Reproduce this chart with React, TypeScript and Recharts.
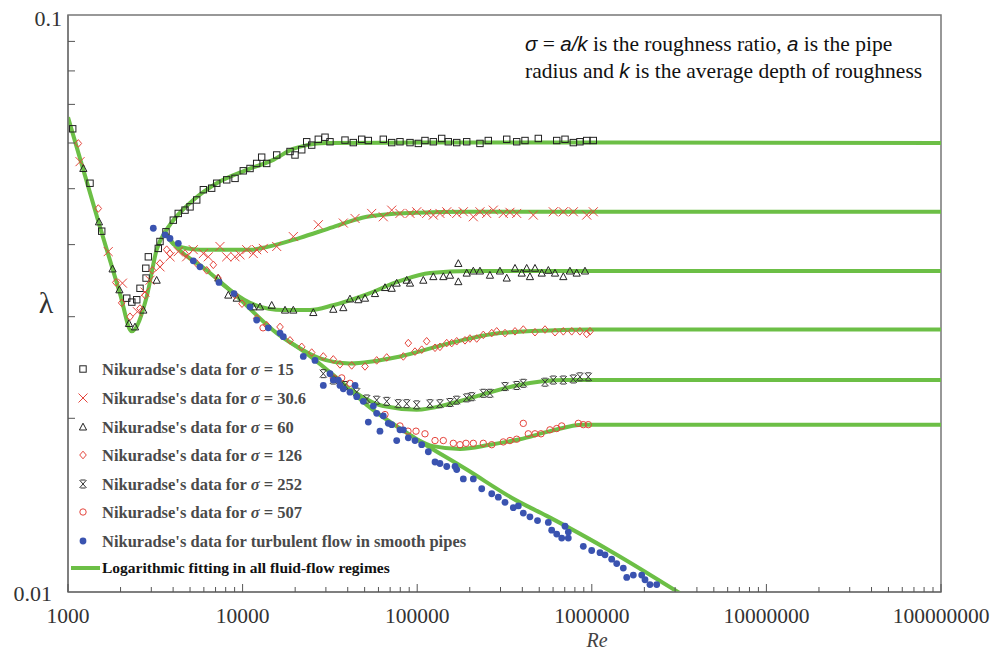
import React from 'react'
import { ComposedChart, Line, Scatter, XAxis, YAxis, ReferenceArea } from 'recharts'

type Pair = [number, number]

const xMajorTicks = [1000, 10000, 100000, 1000000, 10000000, 100000000]
const xMinorSteps = [2, 3, 4, 5, 6, 7, 8, 9]
const yTicks = [0.01, 0.02, 0.03, 0.04, 0.05, 0.06, 0.07, 0.08, 0.09, 0.1]
const yTickLabels = ['0.01', '0.1']

// fitted curves (Re, lambda)
const laminarFit: Pair[] = [[1000, 0.0665], [1525, 0.0429], [1985, 0.0329], [2317, 0.0283], [2823, 0.0325], [3221, 0.0392], [3594, 0.0421]]
const smoothFit: Pair[] = [[3594, 0.0421], [4010, 0.0402], [6230, 0.0361], [8810, 0.033], [15680, 0.0281], [23290, 0.0259], [34590, 0.0235], [51380, 0.0211], [99340, 0.0184], [192100, 0.0163], [371400, 0.0144], [551700, 0.01355], [1328000, 0.0117], [3198000, 0.00995]]
const fit15: Pair[] = [[3594, 0.0421], [4010, 0.0441], [5220, 0.0478], [7107, 0.0511], [10560, 0.0539], [14990, 0.0561], [19440, 0.0586], [23380, 0.0595], [30000, 0.06], [100000, 0.0601], [1000000, 0.0601], [100000000, 0.06]]
const fit30: Pair[] = [[3594, 0.0421], [4101, 0.0399], [5700, 0.0392], [11030, 0.0392], [13740, 0.0396], [21320, 0.0411], [32950, 0.0429], [51380, 0.0447], [90960, 0.0454], [200000, 0.0456], [1000000, 0.0456], [100000000, 0.0456]]
const fit60: Pair[] = [[7621, 0.0342], [11030, 0.0317], [17030, 0.0308], [24320, 0.0308], [32950, 0.0314], [51380, 0.0328], [79710, 0.0346], [118400, 0.0357], [200600, 0.036], [1000000, 0.036], [100000000, 0.036]]
const fit126: Pair[] = [[18680, 0.0271], [27760, 0.0254], [41220, 0.0249], [79710, 0.0256], [154100, 0.027], [298000, 0.0281], [576300, 0.0284], [1000000, 0.0285], [100000000, 0.0285]]
const fit252: Pair[] = [[41210, 0.0225], [63940, 0.021], [99340, 0.0207], [154100, 0.0212], [238200, 0.022], [371400, 0.0228], [718100, 0.0233], [1000000, 0.0233], [100000000, 0.0233]]
const fit507: Pair[] = [[99340, 0.0184], [123200, 0.0179], [175900, 0.0177], [261200, 0.018], [388000, 0.0184], [576300, 0.019], [890500, 0.0195], [1000000, 0.0195], [100000000, 0.0195]]

// Nikuradse's measurements
const sigma15: Pair[] = [[1064, 0.0635], [1337, 0.0511], [1560, 0.0422], [2170, 0.0323], [2320, 0.0318], [2475, 0.0321], [2585, 0.0336], [2790, 0.0364], [2800, 0.035], [2885, 0.0381], [3290, 0.0394], [3364, 0.0405], [3640, 0.0421], [4010, 0.0441], [4280, 0.0453], [4680, 0.0459], [5000, 0.0465], [5460, 0.0478], [5960, 0.0498], [6650, 0.0501], [7110, 0.0511], [8110, 0.0518], [9050, 0.0521], [10090, 0.0537], [11030, 0.0542], [12040, 0.0553], [12860, 0.0567], [13740, 0.0553], [15680, 0.0572], [18690, 0.058], [19960, 0.0572], [21810, 0.0584], [23290, 0.0603], [24870, 0.0595], [27140, 0.0609], [29650, 0.0614], [31660, 0.0603], [38590, 0.0607], [43050, 0.0601], [48090, 0.0609], [52480, 0.0606], [63950, 0.0609], [71450, 0.0601], [79670, 0.0603], [90950, 0.0601], [101500, 0.0599], [110800, 0.0606], [123700, 0.0603], [138100, 0.0611], [150700, 0.0603], [168400, 0.0601], [192100, 0.0603], [228800, 0.0599], [255400, 0.0606], [325600, 0.0609], [371400, 0.0603], [414400, 0.0606], [494000, 0.0611], [629500, 0.0606], [702400, 0.0609], [783800, 0.0601], [855000, 0.0603], [935000, 0.0606], [1020000, 0.0606]]
const sigma30: Pair[] = [[1172, 0.0557], [1700, 0.0389], [2050, 0.0343], [2500, 0.0306], [2760, 0.0331], [2950, 0.0347], [3364, 0.0366], [3840, 0.0381], [4280, 0.0389], [4780, 0.0381], [5220, 0.0392], [5960, 0.0386], [6360, 0.0381], [7420, 0.0397], [8110, 0.0381], [9050, 0.0381], [9660, 0.0384], [10560, 0.0392], [11510, 0.0386], [12040, 0.0392], [13140, 0.0394], [15680, 0.0397], [19520, 0.0413], [27140, 0.0433], [37740, 0.0436], [44050, 0.0444], [54880, 0.0453], [63950, 0.0447], [71450, 0.0459], [79670, 0.0453], [90950, 0.0453], [99340, 0.0456], [113300, 0.0453], [123700, 0.045], [135000, 0.0453], [147600, 0.0456], [168400, 0.0453], [183700, 0.0456], [209600, 0.0447], [228800, 0.0456], [250000, 0.0453], [272800, 0.0459], [311300, 0.0453], [339800, 0.0455], [371400, 0.0453], [462400, 0.045], [601800, 0.0456], [686800, 0.0456], [783800, 0.0456], [935000, 0.045], [1020000, 0.0456]]
const sigma60: Pair[] = [[1224, 0.0542], [1505, 0.0438], [1800, 0.0363], [1970, 0.0334], [2235, 0.0292], [2420, 0.0288], [2700, 0.0308], [3220, 0.0347], [7260, 0.035], [8280, 0.0327], [9250, 0.0323], [11510, 0.0312], [12580, 0.0312], [14680, 0.0314], [17500, 0.0308], [19520, 0.0308], [25410, 0.0305], [33070, 0.0309], [37740, 0.0311], [41210, 0.0322], [46000, 0.0321], [50240, 0.0323], [57320, 0.0329], [65410, 0.0337], [71450, 0.0336], [76300, 0.0343], [87090, 0.0347], [90950, 0.0343], [108400, 0.0347], [123700, 0.0352], [141100, 0.0352], [154100, 0.0354], [172000, 0.0371], [172000, 0.0345], [192100, 0.0357], [209600, 0.036], [228800, 0.036], [261000, 0.0354], [297800, 0.036], [325600, 0.035], [363200, 0.0364], [396700, 0.0357], [423800, 0.0364], [442300, 0.0352], [472800, 0.0364], [516600, 0.0357], [563600, 0.0361], [615600, 0.0357], [686800, 0.0352], [749400, 0.036], [819400, 0.0357], [914200, 0.036]]
const sigma126: Pair[] = [[1146, 0.0599], [1491, 0.0462], [1878, 0.0344], [2030, 0.0317], [2265, 0.03], [2584, 0.031], [2761, 0.0327], [3048, 0.0361], [3364, 0.0371], [3675, 0.0392], [3838, 0.0386], [4678, 0.0386], [5459, 0.0371], [6230, 0.0361], [6796, 0.0369], [7230, 0.035], [9049, 0.0327], [9922, 0.0316], [12040, 0.0298], [13740, 0.029], [16380, 0.0288], [18690, 0.0273], [21810, 0.0266], [24870, 0.026], [28990, 0.0256], [33070, 0.0253], [36120, 0.0248], [42150, 0.0247], [50240, 0.0246], [58620, 0.0252], [66890, 0.0255], [83270, 0.0256], [88920, 0.027], [97140, 0.0261], [106100, 0.0263], [113300, 0.0272], [126500, 0.0265], [135000, 0.0266], [147600, 0.027], [157600, 0.027], [168400, 0.0272], [187800, 0.0273], [200500, 0.0275], [219200, 0.0275], [239100, 0.0279], [267200, 0.0281], [285300, 0.0283], [318400, 0.0281], [363200, 0.0283], [405200, 0.0285], [472800, 0.0282], [539500, 0.0285], [615600, 0.0282], [686800, 0.0283], [767400, 0.0283], [855000, 0.0283], [935000, 0.028], [976600, 0.0283]]
const sigma252: Pair[] = [[28990, 0.0239], [33070, 0.0233], [38590, 0.0228], [45030, 0.0222], [51380, 0.0216], [58620, 0.0215], [66890, 0.0214], [77940, 0.0212], [87090, 0.0212], [99340, 0.0211], [118400, 0.0212], [135000, 0.0212], [154100, 0.0213], [168400, 0.0215], [192100, 0.0217], [205200, 0.0218], [239100, 0.0221], [261000, 0.0221], [318400, 0.0227], [371400, 0.0228], [405200, 0.023], [539500, 0.0231], [601800, 0.0233], [686800, 0.0233], [783800, 0.0234], [855000, 0.0236], [955000, 0.0236]]
const sigma507: Pair[] = [[13090, 0.0287], [33070, 0.0235], [36950, 0.0235], [41210, 0.023], [65410, 0.0203], [79670, 0.0194], [88570, 0.019], [98450, 0.019], [110800, 0.0188], [126500, 0.0183], [141100, 0.0183], [161000, 0.0181], [175800, 0.018], [190300, 0.0181], [209600, 0.0181], [239100, 0.0181], [267200, 0.018], [311300, 0.0182], [339800, 0.0183], [371400, 0.0184], [405200, 0.0196], [432800, 0.0188], [472800, 0.0188], [511700, 0.0188], [575700, 0.0191], [629500, 0.0192], [672400, 0.0194], [837200, 0.0196], [894000, 0.0195], [955000, 0.0195]]
const smoothPipe: Pair[] = [[3080, 0.0427], [3594, 0.0416], [3838, 0.041], [4282, 0.0402], [5220, 0.0375], [5700, 0.0366], [7325, 0.0344], [8928, 0.0329], [11030, 0.0312], [12040, 0.0296], [14040, 0.0287], [16380, 0.0281], [17110, 0.0277], [22270, 0.0256], [25980, 0.0252], [28990, 0.0228], [31660, 0.0239], [33070, 0.0233], [35320, 0.0233], [36120, 0.0228], [37740, 0.0225], [41210, 0.0222], [44050, 0.0228], [45030, 0.0218], [49130, 0.0214], [52480, 0.0197], [56060, 0.021], [58620, 0.0204], [61200, 0.019], [63950, 0.0202], [68320, 0.0196], [71450, 0.0195], [76300, 0.0183], [79670, 0.0191], [83270, 0.0191], [88920, 0.0185], [97140, 0.0183], [106100, 0.018], [115800, 0.0175], [126500, 0.0168], [135000, 0.0167], [147600, 0.0165], [164700, 0.0165], [168400, 0.0163], [183700, 0.0157], [209600, 0.0157], [234200, 0.0151], [267200, 0.0148], [291400, 0.0146], [318400, 0.0143], [355100, 0.014], [379400, 0.0141], [405200, 0.0137], [442300, 0.0135], [488800, 0.0133], [563600, 0.0132], [589300, 0.0128], [629500, 0.0126], [672400, 0.0124], [702400, 0.013], [733600, 0.0127], [733600, 0.0124], [894000, 0.012], [998600, 0.0118], [1114000, 0.0117], [1190000, 0.0116], [1300000, 0.0114], [1389000, 0.0112], [1515000, 0.011], [1585000, 0.0106], [1729000, 0.0107], [1931000, 0.0107], [2017000, 0.0105], [2153000, 0.0103], [2353000, 0.0103]]

const legendLabels = ['15', '30.6', '60', '126', '252', '507']

const pts = (a: Pair[]) => a.map(([x, y]) => ({ x, y }))

const GREEN = '#6cbf46'
const RED = '#e5453d'
const DARK = '#222'
const BLUE = '#3a53b0'
const SERIF = '"Liberation Serif", "Times New Roman", serif'
const SANS = '"Liberation Sans", Arial, sans-serif'

const SquareMark = ({ cx, cy }: any) => <rect x={cx - 3.2} y={cy - 3.2} width={6.4} height={6.4} fill="none" stroke={DARK} strokeWidth={1} />
const CrossMark = ({ cx, cy }: any) => (
  <path d={`M${cx - 4.5},${cy - 4.5}L${cx + 4.5},${cy + 4.5}M${cx - 4.5},${cy + 4.5}L${cx + 4.5},${cy - 4.5}`} stroke={RED} strokeWidth={1} fill="none" />
)
const TriangleMark = ({ cx, cy }: any) => (
  <path d={`M${cx},${cy - 3.8}L${cx + 3.6},${cy + 3}L${cx - 3.6},${cy + 3}Z`} stroke={DARK} strokeWidth={1} fill="none" />
)
const DiamondMark = ({ cx, cy }: any) => (
  <path d={`M${cx},${cy - 3.8}L${cx + 3.3},${cy}L${cx},${cy + 3.8}L${cx - 3.3},${cy}Z`} stroke={RED} strokeWidth={1} fill="none" />
)
const StarMark = ({ cx, cy }: any) => (
  <path d={`M${cx - 3.5},${cy - 4}L${cx + 3.5},${cy + 4}M${cx - 3.5},${cy + 4}L${cx + 3.5},${cy - 4}M${cx - 2.5},${cy - 4}L${cx + 2.5},${cy - 4}M${cx - 2.5},${cy + 4}L${cx + 2.5},${cy + 4}`} stroke="#333" strokeWidth={1} fill="none" />
)
const RingMark = ({ cx, cy }: any) => <circle cx={cx} cy={cy} r={3.2} fill="none" stroke={RED} strokeWidth={1} />
const DotMark = ({ cx, cy }: any) => <circle cx={cx} cy={cy} r={3.4} fill={BLUE} stroke="none" />

const legendShapes = [SquareMark, CrossMark, TriangleMark, DiamondMark, StarMark, RingMark]

const xTicks = xMajorTicks.flatMap((d, i) => (i < xMajorTicks.length - 1 ? [d, ...xMinorSteps.map((m) => d * m)] : [d]))

const XTick = ({ x, y, payload }: any) => {
  const v = payload.value
  const major = xMajorTicks.includes(v)
  return (
    <g>
      <line x1={x} x2={x} y1={y} y2={y - (major ? 8 : 5)} stroke="#555" strokeWidth={1} />
      {major && (
        <text x={x} y={y + 31} textAnchor="middle" fontFamily={SERIF} fontSize={21.5} fill="#333">
          {String(v)}
        </text>
      )}
    </g>
  )
}

const YTick = ({ x, y, payload }: any) => {
  const v = payload.value
  const label = yTickLabels.find((t) => Number(t) === v)
  const isTop = v === 0.1
  return (
    <g>
      {!label && <line x1={x} x2={x + 7} y1={y} y2={y} stroke="#555" strokeWidth={1} />}
      {label && (
        <text x={isTop ? x - 6 : x - 16} y={isTop ? y + 11 : y + 9} textAnchor="end" fontFamily={SERIF} fontSize={22} fill="#333">
          {label}
        </text>
      )}
    </g>
  )
}

const fits = [laminarFit, smoothFit, fit15, fit30, fit60, fit126, fit252, fit507]
const series = [
  { data: sigma15, shape: SquareMark },
  { data: sigma30, shape: CrossMark },
  { data: sigma60, shape: TriangleMark },
  { data: sigma126, shape: DiamondMark },
  { data: sigma252, shape: StarMark },
  { data: sigma507, shape: RingMark },
  { data: smoothPipe, shape: DotMark },
]

export default function App() {
  const legendRows = [369, 398, 427, 455, 484, 512]
  return (
    <div style={{ position: 'absolute', left: 0, top: 0, width: 994, height: 652, background: '#fff' }}>
      <ComposedChart width={994} height={652} margin={{ top: 15, right: 53, bottom: 0, left: 8 }}>
        <XAxis
          dataKey="x"
          type="number"
          scale="log"
          domain={[1000, 100000000]}
          allowDataOverflow
          ticks={xTicks}
          interval={0}
          tick={<XTick />}
          tickLine={false}
          tickSize={0}
          tickMargin={0}
          height={60}
          axisLine={{ stroke: '#777', strokeWidth: 1.5 }}
        />
        <YAxis
          dataKey="y"
          type="number"
          scale="log"
          domain={[0.01, 0.1]}
          allowDataOverflow
          ticks={yTicks}
          interval={0}
          tick={<YTick />}
          tickLine={false}
          tickSize={0}
          tickMargin={0}
          width={60}
          axisLine={{ stroke: '#777', strokeWidth: 1.5 }}
        />
        <ReferenceArea x1={1000} x2={100000000} y1={0.01} y2={0.1} fill="none" stroke="#777" strokeWidth={1.5} />
        {fits.map((f, i) => (
          <Line key={'f' + i} data={pts(f)} dataKey="y" type="monotone" stroke={GREEN} strokeWidth={4} dot={false} isAnimationActive={false} />
        ))}
        {series.map((s, i) => (
          <Scatter key={'s' + i} data={pts(s.data)} shape={s.shape} isAnimationActive={false} />
        ))}
      </ComposedChart>
      <svg width={994} height={652} style={{ position: 'absolute', left: 0, top: 0, pointerEvents: 'none' }}>
        <text x={46} y={313} textAnchor="middle" fontFamily={SERIF} fontSize={30} fill="#333">λ</text>
        <text x={597} y={647} textAnchor="middle" fontFamily={SERIF} fontStyle="italic" fontSize={20} fill="#444">Re</text>
        <g fontFamily={SERIF} fontSize={21.5} fill="#111">
          <text x={525} y={51}>
            <tspan fontFamily={SANS} fontStyle="italic" fontSize={20.5}>σ</tspan>
            <tspan> =  </tspan>
            <tspan fontFamily={SANS} fontStyle="italic" fontSize={20.5}>a/k</tspan>
            <tspan> is the roughness ratio, </tspan>
            <tspan fontFamily={SANS} fontStyle="italic" fontSize={20.5}>a</tspan>
            <tspan> is the pipe</tspan>
          </text>
          <text x={525} y={78}>
            <tspan>radius and </tspan>
            <tspan fontFamily={SANS} fontStyle="italic" fontSize={20.5}>k</tspan>
            <tspan> is the average depth of roughness</tspan>
          </text>
        </g>
        {legendLabels.map((lab, i) => {
          const Shape = legendShapes[i]
          return (
            <g key={lab}>
              <Shape cx={83} cy={legendRows[i]} />
              <text x={102} y={legendRows[i] + 5.5} fontFamily={SERIF} fontWeight="bold" fontSize={16.5} fill="#4a4a4a">
                Nikuradse's data for <tspan fontStyle="italic">σ</tspan> = {lab}
              </text>
            </g>
          )
        })}
        <DotMark cx={83} cy={541} />
        <text x={102} y={546.5} fontFamily={SERIF} fontWeight="bold" fontSize={16.5} fill="#4a4a4a">
          Nikuradse's data for turbulent flow in smooth pipes
        </text>
        <line x1={71} x2={100} y1={568} y2={568} stroke={GREEN} strokeWidth={4} />
        <text x={102} y={573} fontFamily={SERIF} fontWeight="bold" fontSize={15.5} fill="#111">
          Logarithmic fitting in all fluid-flow regimes
        </text>
      </svg>
    </div>
  )
}
